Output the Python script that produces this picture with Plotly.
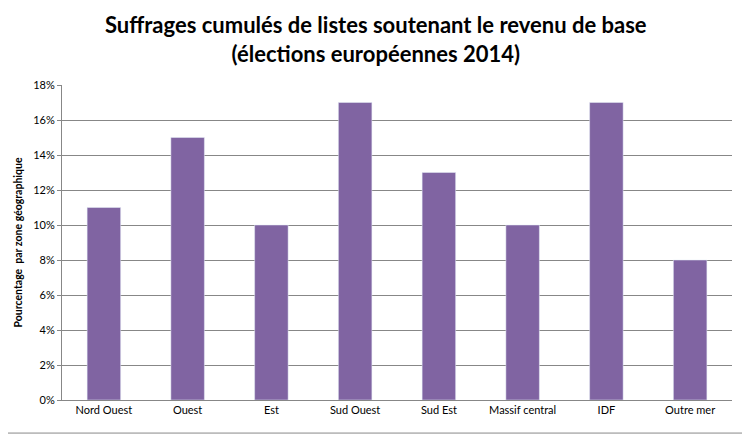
import plotly.graph_objects as go

zones = ["Nord Ouest", "Ouest", "Est", "Sud Ouest", "Sud Est", "Massif central", "IDF", "Outre mer"]
pourcentages = [0.11, 0.15, 0.10, 0.17, 0.13, 0.10, 0.17, 0.08]
ticks_y = [0, 0.02, 0.04, 0.06, 0.08, 0.10, 0.12, 0.14, 0.16, 0.18]

fig = go.Figure(go.Bar(x=zones, y=pourcentages, marker_color="#8064A2", width=0.4))

# la page ajoute ~8px de marge : on compense
fig.update_layout(
    width=750, height=435,
    margin=dict(l=54, r=26, t=77, b=43, autoexpand=False),
    paper_bgcolor="white", plot_bgcolor="white",
    font=dict(family="Lato, Open Sans, sans-serif", size=11, color="black"),
    showlegend=False,
    annotations=[dict(text="<b>Suffrages cumulés de listes soutenant le revenu de base<br>(élections européennes 2014)</b>",
                      xref="paper", yref="paper", x=0.4686, y=1.24, xanchor="center", yanchor="top",
                      showarrow=False, font=dict(size=22))],
    shapes=[dict(type="rect", xref="paper", yref="paper", x0=-0.0913, x1=1.027, y0=-0.105, y1=1.267,
                 line=dict(color="#888888", width=1))],
)
fig.update_yaxes(range=[0, 0.18], tickvals=ticks_y, tickformat=".0%",
                 showgrid=True, gridcolor="#878787", gridwidth=1,
                 showline=True, linecolor="#878787", ticks="outside", tickcolor="#878787", ticklen=4,
                 title=dict(text="<b>Pourcentage  par zone géographique</b>", font=dict(size=10.5), standoff=8))
fig.update_xaxes(showline=True, linecolor="#878787", ticks="", mirror=False)

fig.write_html("out.html")
